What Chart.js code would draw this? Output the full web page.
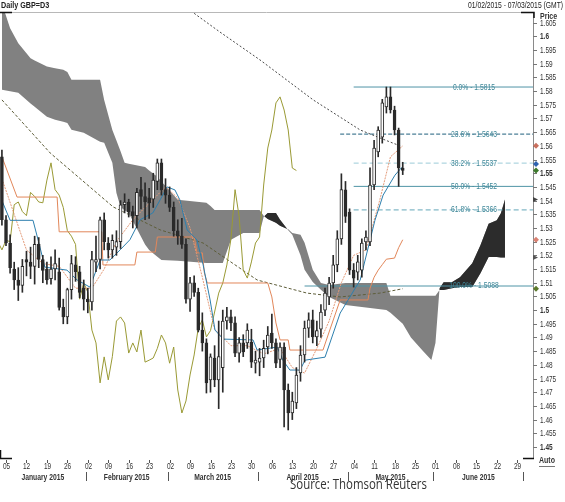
<!DOCTYPE html>
<html>
<head>
<meta charset="utf-8">
<script src="https://cdn.jsdelivr.net/npm/chart.js@4.4.0/dist/chart.umd.min.js"></script>
<style>
  html, body { margin: 0; padding: 0; background: #fff; }
  canvas { display: block; }
</style>
</head>
<body>
<canvas id="gbp" width="565" height="502"></canvas>
<script>
/* Daily GBP=D3, 02 Jan - 20 May 2015, trading day index 0 = 02 Jan */
var opens  = [1.5560,1.5330,1.5245,1.5150,1.5110,1.5090,1.5185,1.5175,1.5160,1.5240,1.5185,1.5150,1.5115,1.5150,1.5140,1.5010,1.4975,1.5075,1.5165,1.5140,
              1.5080,1.5040,1.5030,1.5175,1.5185,1.5330,1.5245,1.5220,1.5230,1.5250,1.5385,1.5395,1.5360,1.5345,1.5440,1.5415,1.5410,1.5405,1.5470,1.5538,
              1.5440,1.5420,1.5375,1.5290,1.5270,1.5240,1.5040,1.5100,1.5065,1.4927,1.4880,1.4745,1.4825,1.4745,1.4790,1.4960,1.4975,1.4953,1.4843,1.4880,
              1.4880,1.4883,1.4806,1.4810,1.4825,1.4865,1.4916,1.4880,1.4820,1.4865,1.4708,1.4624,1.4661,1.4770,1.4836,1.4934,1.4964,1.4902,1.4930,1.5000,
              1.5048,1.5099,1.5165,1.5260,1.5439,1.5358,1.5146,1.5139,1.5146,1.5249,1.5249,1.5457,1.5578,1.5632,1.5742,1.5779,1.5731,1.5658,1.5519];
var highs  = [1.5585,1.5345,1.5275,1.5175,1.5155,1.5185,1.5215,1.5230,1.5270,1.5265,1.5200,1.5175,1.5195,1.5220,1.5190,1.5040,1.5080,1.5200,1.5195,1.5160,
              1.5110,1.5080,1.5215,1.5270,1.5340,1.5355,1.5265,1.5275,1.5290,1.5400,1.5425,1.5405,1.5380,1.5445,1.5485,1.5465,1.5445,1.5500,1.5552,1.5552,
              1.5480,1.5450,1.5395,1.5330,1.5335,1.5260,1.5120,1.5125,1.5080,1.4990,1.4895,1.4840,1.4870,1.4960,1.5000,1.5010,1.5000,1.4975,1.4900,1.4910,
              1.4950,1.4930,1.4850,1.4860,1.4890,1.4940,1.4985,1.4895,1.4880,1.4880,1.4730,1.4700,1.4790,1.4870,1.4960,1.4990,1.5000,1.4960,1.5020,1.5080,
              1.5120,1.5200,1.5290,1.5498,1.5470,1.5370,1.5170,1.5200,1.5260,1.5290,1.5520,1.5620,1.5670,1.5770,1.5815,1.5815,1.5745,1.5665,1.5540];
var lows   = [1.5310,1.5235,1.5135,1.5075,1.5035,1.5065,1.5125,1.5115,1.5095,1.5155,1.5100,1.5095,1.5095,1.5110,1.5000,1.4950,1.4950,1.5040,1.5105,1.5045,
              1.5000,1.4990,1.5000,1.5140,1.5150,1.5220,1.5190,1.5190,1.5200,1.5225,1.5355,1.5340,1.5300,1.5300,1.5370,1.5330,1.5335,1.5375,1.5440,1.5420,
              1.5390,1.5360,1.5270,1.5240,1.5225,1.5025,1.4995,1.5050,1.4920,1.4850,1.4697,1.4700,1.4720,1.4640,1.4700,1.4930,1.4925,1.4830,1.4810,1.4830,
              1.4860,1.4790,1.4770,1.4760,1.4790,1.4840,1.4860,1.4790,1.4790,1.4573,1.4562,1.4600,1.4640,1.4740,1.4810,1.4900,1.4880,1.4870,1.4900,1.4980,
              1.5020,1.5080,1.5140,1.5240,1.5320,1.5130,1.5084,1.5110,1.5120,1.5220,1.5235,1.5440,1.5560,1.5610,1.5720,1.5720,1.5640,1.5452,1.5495];
var closes = [1.5330,1.5245,1.5155,1.5110,1.5090,1.5160,1.5175,1.5160,1.5240,1.5185,1.5145,1.5110,1.5150,1.5170,1.5010,1.4975,1.5075,1.5170,1.5140,1.5065,
              1.5040,1.5030,1.5185,1.5185,1.5330,1.5250,1.5220,1.5255,1.5250,1.5385,1.5395,1.5360,1.5345,1.5430,1.5415,1.5395,1.5392,1.5475,1.5538,1.5440,
              1.5420,1.5375,1.5290,1.5270,1.5240,1.5040,1.5100,1.5065,1.4927,1.4880,1.4734,1.4829,1.4745,1.4830,1.4960,1.4975,1.4953,1.4843,1.4880,1.4847,
              1.4927,1.4810,1.4817,1.4825,1.4860,1.4909,1.4880,1.4806,1.4865,1.4708,1.4624,1.4668,1.4763,1.4836,1.4934,1.4964,1.4902,1.4925,1.4993,1.5062,
              1.5099,1.5165,1.5260,1.5440,1.5342,1.5146,1.5117,1.5176,1.5245,1.5267,1.5457,1.5592,1.5658,1.5757,1.5779,1.5731,1.5658,1.5519,1.5510];

var chikouShift = 26;

var tenkanPts = [[0,1.5400],[2,1.5328],[7.6,1.5328],[9.3,1.5230],[10.5,1.5157],[15.9,1.5146],[18.4,1.5110],[21.5,1.5084],[24,1.5183],[26.4,1.5183],
                 [28.9,1.5220],[31.3,1.5257],[33.8,1.5330],[36.9,1.5355],[38.7,1.5403],[40.4,1.5450],[42.3,1.5439],[43.5,1.5403],[45.3,1.5293],[47.7,1.5256],
                 [49.2,1.5165],[50.9,1.5037],[52.1,1.4927],[54.1,1.4894],[61.4,1.4891],[62.4,1.4854],[67.3,1.4865],[68.7,1.4817],[70.4,1.4781],[72.9,1.4781],
                 [74.1,1.4817],[79,1.4828],[82.7,1.4989],[87.6,1.5110],[91.2,1.5328],[93.2,1.5420],[96.1,1.5493],[97.8,1.5522]];
var kijunPts  = [[0,1.5560],[3.7,1.5413],[13.5,1.5413],[14,1.5286],[24.4,1.5286],[24.7,1.5165],[32.5,1.5165],[33,1.5212],[37.5,1.5212],[38,1.5267],
                 [47,1.5267],[47.7,1.5209],[49,1.5209],[49.5,1.5136],[50.2,1.5099],[65,1.5099],[66,1.5048],[67,1.4953],[68,1.4891],[70,1.4891],
                 [70.4,1.4854],[78.5,1.4854],[80,1.4920],[82.7,1.5037],[89.5,1.5037],[90,1.5080],[91,1.5120],[92,1.5146],[93,1.5166],[94,1.5186],
                 [96,1.5190],[97,1.5228],[98,1.5257]];
var maShortPts = [[0,1.5480],[3,1.5350],[6,1.5220],[10,1.5170],[14,1.5160],[18,1.5080],[22,1.5080],[25,1.5150],[28,1.5250],[32,1.5330],
                  [36,1.5390],[40,1.5450],[43,1.5410],[46,1.5300],[49,1.5120],[52,1.4930],[56,1.4870],[60,1.4870],[64,1.4840],[68,1.4860],
                  [71,1.4790],[74,1.4770],[77,1.4860],[80,1.4960],[83,1.5100],[86,1.5200],[89,1.5220],[92.4,1.5403],[95,1.5560],[98,1.5600]];
var maLongPts = [[44,1.6122],[47.2,1.6082],[53.3,1.6016],[63.1,1.5914],[76.1,1.5768],[82.7,1.5705],[87.6,1.5658],[95.6,1.5610],[97.8,1.5598]];
var maMidPts  = [[0,1.5768],[11.8,1.5574],[27.2,1.5377],[38.7,1.5293],[49.2,1.5245],[62.4,1.5110],[74.6,1.5062],[82.7,1.5048],[92.4,1.5062],[98,1.5078]];

var cloudIdx = [0,2,4,7,8,11,13,15,16,17,20,24,25,27,28,29,30,31,35,36,38,39,43,50,51,52,54,56,59,63,64,65,67,68,70,71,73,74,76,78,80,84,94,95,98,100,103,105,106,107,108,110,112,115,117,119,121,122,123];
var spanA    = [1.5805,1.5800,1.5794,1.5755,1.5743,1.5706,1.5695,1.5688,1.5684,1.5659,1.5648,1.5615,1.5611,1.5538,1.5428,1.5377,1.5365,1.5355,1.5240,1.5220,1.5195,1.5183,1.5180,1.5172,1.5172,1.5172,1.5172,1.5257,1.5282,1.5282,1.5341,1.5355,1.5355,1.5330,1.5292,1.5275,1.5200,1.5147,1.5103,1.5074,1.5048,1.5019,1.5000,1.4990,1.4950,1.4900,1.4850,1.4818,1.4880,1.5080,1.5102,1.5102,1.5120,1.5171,1.5237,1.5315,1.5328,1.5354,1.5404];
var spanB    = [1.6120,1.6030,1.5975,1.5920,1.5912,1.5890,1.5884,1.5878,1.5870,1.5842,1.5842,1.5842,1.5768,1.5658,1.5620,1.5580,1.5538,1.5535,1.5523,1.5510,1.5487,1.5470,1.5403,1.5392,1.5380,1.5366,1.5366,1.5366,1.5366,1.5366,1.5345,1.5333,1.5319,1.5308,1.5295,1.5282,1.5275,1.5246,1.5147,1.5099,1.5092,1.5099,1.5099,1.5052,1.5052,1.5052,1.5052,1.5052,1.5052,1.5073,1.5073,1.5080,1.5084,1.5084,1.5135,1.5194,1.5194,1.5192,1.5192];

var fibPct   = ['0.0%', '23.6%', '38.2%', '50.0%', '61.8%', '100.0%'];
var fibPrice = [1.5815, 1.5643, 1.5537, 1.5452, 1.5366, 1.5088];
var fibFrom  = [86, 82.7, 86, 86, 86, 74];

var mondayIdx = [1,6,11,16,21,26,31,36,41,46,51,56,61,66,71,76,81,86,91,96,101,106,111,116,121,126];
var mondayLbl = ['05','12','19','26','02','09','16','23','02','09','16','23','30','06','13','20','27','04','11','18','25','01','08','15','22','29'];
var monthStart = [0, 21, 41, 63, 85, 106, 128];
var monthName  = ['January 2015', 'February 2015', 'March 2015', 'April 2015', 'May 2015', 'June 2015'];
var priceTicks = [1.605,1.6,1.595,1.59,1.585,1.58,1.575,1.57,1.565,1.56,1.555,1.55,1.545,1.54,1.535,1.53,1.525,1.52,1.515,1.51,1.505,1.5,1.495,1.49,1.485,1.48,1.475,1.47,1.465,1.46,1.455,1.45];
var priceLbl   = ['1.605','1.6','1.595','1.59','1.585','1.58','1.575','1.57','1.565','1.56','1.555','1.55','1.545','1.54','1.535','1.53','1.525','1.52','1.515','1.51','1.505','1.5','1.495','1.49','1.485','1.48','1.475','1.47','1.465','1.46','1.455','1.45'];

var DARK = '#2a2a2a';
var CLOUD_LIGHT = '#818181';
var CLOUD_DARK = '#2c2c2c';
var C_TENKAN = '#2d7fae', C_KIJUN = '#e2875a', C_SHORT = '#e49a78', C_CHIKOU = '#9a9a35', C_MALONG = '#4a4a4a', C_MAMID = '#5e5e3a';
function pts(arr) { return arr.map(function (p) { return { x: p[0], y: p[1] }; }); }

// split the cloud into the stretches where span A is above span B (dark part)
function darkParts() {
  var top = [], bot = [];
  for (var k = 0; k < cloudIdx.length; k++) {
    var up = spanA[k] >= spanB[k];
    if (k > 0) {
      var wasUp = spanA[k - 1] >= spanB[k - 1];
      if (up !== wasUp) {
        var d0 = spanA[k - 1] - spanB[k - 1], d1 = spanA[k] - spanB[k];
        var t = d0 / (d0 - d1);
        var cx = cloudIdx[k - 1] + t * (cloudIdx[k] - cloudIdx[k - 1]);
        var cy = spanA[k - 1] + t * (spanA[k] - spanA[k - 1]);
        top.push({ x: cx, y: cy }); bot.push({ x: cx, y: cy });
        if (!up) { top.push({ x: cx + 0.01, y: null }); bot.push({ x: cx + 0.01, y: null }); }
      }
    }
    if (up) { top.push({ x: cloudIdx[k], y: spanA[k] }); bot.push({ x: cloudIdx[k], y: spanB[k] }); }
  }
  return { top: top, bot: bot };
}
var dark = darkParts();

var datasets = [];
datasets.push({ type: 'bar', label: 'body', order: 0, grouped: false, barThickness: 3,
  data: opens.map(function (o, i) { var c = closes[i]; var lo = Math.min(o, c), hi = Math.max(o, c); if (hi - lo < 0.0003) { hi = lo + 0.0003; } return { x: i, y: [lo, hi] }; }),
  backgroundColor: opens.map(function (o, i) { return closes[i] >= o ? '#ffffff' : DARK; }),
  borderColor: DARK, borderWidth: 1, borderSkipped: false });
datasets.push({ type: 'bar', label: 'wick', order: 1, grouped: false, barThickness: 1,
  data: highs.map(function (h, i) { return { x: i, y: [lows[i], h] }; }),
  backgroundColor: DARK, borderWidth: 0 });
datasets.push({ type: 'line', label: 'Tenkan', order: 2, data: pts(tenkanPts), borderColor: C_TENKAN, borderWidth: 1, pointRadius: 0 });
datasets.push({ type: 'line', label: 'Kijun', order: 3, data: pts(kijunPts), borderColor: C_KIJUN, borderWidth: 1, pointRadius: 0 });
datasets.push({ type: 'line', label: 'MA short', order: 3.5, data: pts(maShortPts), borderColor: C_SHORT, borderWidth: 1, borderDash: [2, 1], pointRadius: 0 });
datasets.push({ type: 'line', label: 'Chikou', order: 4,
  data: closes.map(function (c, i) { return { x: i - chikouShift, y: c }; }),
  borderColor: C_CHIKOU, borderWidth: 1, pointRadius: 0 });
datasets.push({ type: 'line', label: 'MA long', order: 5, data: pts(maLongPts), borderColor: C_MALONG, borderWidth: 1, borderDash: [2, 2], pointRadius: 0 });
datasets.push({ type: 'line', label: 'MA mid', order: 6, data: pts(maMidPts), borderColor: C_MAMID, borderWidth: 1, borderDash: [3, 2], pointRadius: 0 });
fibPrice.forEach(function (p, k) {
  var dash = k === 1 ? [4, 2] : (k === 2 || k === 4 ? [5, 3] : []);
  var col = k === 1 ? '#1e5f7c' : (k === 2 ? '#9ccbd8' : (k === 4 ? '#62a6b8' : '#4f94a6'));
  datasets.push({ type: 'line', label: fibPct[k], order: 7, data: [{ x: fibFrom[k], y: p }, { x: 129.85, y: p }],
    borderColor: col, borderWidth: 1, borderDash: dash, pointRadius: 0 });
});
datasets.push({ type: 'line', label: 'Cloud dark top', order: 8, data: dark.top, spanGaps: false,
  borderWidth: 0, pointRadius: 0, borderColor: CLOUD_DARK, backgroundColor: CLOUD_DARK, fill: '+1' });
datasets.push({ type: 'line', label: 'Cloud dark bottom', order: 8.5, data: dark.bot, spanGaps: false,
  borderWidth: 0, pointRadius: 0, borderColor: CLOUD_DARK });
datasets.push({ type: 'line', label: 'Senkou A', order: 9,
  data: cloudIdx.map(function (x, k) { return { x: x, y: spanA[k] }; }),
  borderWidth: 0, pointRadius: 0, borderColor: CLOUD_LIGHT, backgroundColor: CLOUD_LIGHT, fill: '+1' });
datasets.push({ type: 'line', label: 'Senkou B', order: 10,
  data: cloudIdx.map(function (x, k) { return { x: x, y: spanB[k] }; }),
  borderWidth: 0, pointRadius: 0, borderColor: CLOUD_LIGHT });

// last-value tags on the price axis: [value, colour, shape]
var lastTags = [
  [maShortPts[maShortPts.length - 1][1], '#c9705e', 'd'],
  [tenkanPts[tenkanPts.length - 1][1] + 0.0012, '#2f62b0', 'd'],
  [closes[closes.length - 1], '#3d7a2c', 'd'],
  [spanA[spanA.length - 1], '#444444', 'a'],
  [kijunPts[kijunPts.length - 1][1], '#d98273', 'd'],
  [spanB[spanB.length - 1], '#555555', 'a'],
  [maMidPts[maMidPts.length - 1][1], '#5c7a2c', 'd']
];

function fitText(ctx, txt, x, y, font, sx, align) {
  ctx.save();
  ctx.font = font;
  ctx.textBaseline = 'middle';
  ctx.textAlign = 'left';
  var w = ctx.measureText(txt).width * sx;
  var left = align === 'center' ? x - w / 2 : (align === 'right' ? x - w : x);
  ctx.translate(left, y);
  ctx.scale(sx, 1);
  ctx.fillText(txt, 0, 0);
  ctx.restore();
  return w;
}

var decor = {
  id: 'decor',
  beforeDraw: function (chart) {
    var ctx = chart.ctx;
    ctx.save();
    ctx.fillStyle = '#ffffff';
    ctx.fillRect(0, 0, chart.width, chart.height);
    ctx.restore();
  },
  afterDraw: function (chart) {
    var ctx = chart.ctx, a = chart.chartArea, xs = chart.scales.x, ys = chart.scales.y;
    var FONT = '9px "Liberation Sans", Arial, sans-serif';
    var BOLD = 'bold 9px "Liberation Sans", Arial, sans-serif';
    ctx.save();
    // frame
    ctx.strokeStyle = '#b8b8b8'; ctx.lineWidth = 1;
    ctx.beginPath(); ctx.moveTo(0, a.top + 0.5); ctx.lineTo(a.right, a.top + 0.5); ctx.stroke();
    ctx.strokeStyle = '#8a8a8a';
    ctx.beginPath(); ctx.moveTo(a.right + 0.5, a.top); ctx.lineTo(a.right + 0.5, a.bottom); ctx.stroke();
    ctx.strokeStyle = '#111'; ctx.lineWidth = 1.5;
    ctx.beginPath();
    ctx.moveTo(0, a.top + 0.5); ctx.lineTo(12, a.top + 0.5);
    ctx.moveTo(a.right - 12, a.top + 0.5); ctx.lineTo(a.right + 1, a.top + 0.5); ctx.lineTo(a.right + 1, a.top + 6);
    ctx.moveTo(0.5, a.bottom - 8); ctx.lineTo(0.5, a.bottom + 0.5); ctx.lineTo(12, a.bottom + 0.5);
    ctx.moveTo(a.right - 10, a.bottom + 0.5); ctx.lineTo(a.right + 1, a.bottom + 0.5);
    ctx.stroke();

    // price axis
    ctx.fillStyle = '#333'; ctx.strokeStyle = '#777'; ctx.lineWidth = 1;
    priceTicks.forEach(function (v, k) {
      var y = Math.round(ys.getPixelForValue(v)) + 0.5;
      ctx.beginPath(); ctx.moveTo(a.right, y); ctx.lineTo(a.right + 4, y); ctx.stroke();
      var major = Math.abs(v * 20 - Math.round(v * 20)) < 1e-6;
      fitText(ctx, priceLbl[k], a.right + 7, y, major ? BOLD : FONT, 0.72, 'left');
    });
    fitText(ctx, 'Price', a.right + 7, 17, BOLD, 0.78, 'left');
    var aw = fitText(ctx, 'Auto', a.right + 6, 461, BOLD, 0.78, 'left');
    ctx.beginPath(); ctx.moveTo(a.right + 6, 466.5); ctx.lineTo(a.right + 6 + aw, 466.5); ctx.stroke();

    // last-value tags
    lastTags.forEach(function (t) {
      var y = ys.getPixelForValue(t[0]), x = a.right + 3;
      ctx.fillStyle = t[1];
      ctx.beginPath();
      if (t[2] === 'd') { ctx.moveTo(x, y - 3); ctx.lineTo(x + 3, y); ctx.lineTo(x, y + 3); ctx.lineTo(x - 3, y); }
      else { ctx.moveTo(x - 3, y - 2.5); ctx.lineTo(x + 2, y); ctx.lineTo(x - 3, y + 2.5); }
      ctx.closePath(); ctx.fill();
    });

    // date axis
    ctx.fillStyle = '#333'; ctx.strokeStyle = '#555';
    mondayIdx.forEach(function (d, k) {
      var x = Math.round(xs.getPixelForValue(d)) + 0.5;
      ctx.beginPath(); ctx.moveTo(x, a.bottom + 2); ctx.lineTo(x, a.bottom + 5); ctx.stroke();
      fitText(ctx, mondayLbl[k], x, a.bottom + 9, FONT, 0.72, 'center');
    });
    monthStart.forEach(function (d, k) {
      if (k > 0) {
        var x = Math.round(xs.getPixelForValue(d - 0.5)) + 0.5;
        ctx.beginPath(); ctx.moveTo(x, a.bottom + 14); ctx.lineTo(x, a.bottom + 23); ctx.stroke();
      }
      if (k < monthName.length) {
        var mid = xs.getPixelForValue((d + monthStart[k + 1] - 1) / 2);
        fitText(ctx, monthName[k], mid, a.bottom + 20, BOLD, 0.75, 'center');
      }
    });

    // fibonacci labels
    ctx.fillStyle = '#3f8798';
    fibPrice.forEach(function (p, k) {
      fitText(ctx, fibPct[k] + ' - ' + p.toFixed(4), 474, ys.getPixelForValue(p), FONT, 0.75, 'center');
    });

    // header and source
    ctx.fillStyle = '#222';
    fitText(ctx, 'Daily GBP=D3', 1, 6, BOLD, 0.8, 'left');
    fitText(ctx, '01/02/2015 - 07/03/2015 (GMT)', 563, 6, FONT, 0.75, 'right');
    ctx.fillStyle = '#333';
    ctx.font = '14px "Open Sans", sans-serif';
    var sw = ctx.measureText('Source: Thomson Reuters').width;
    fitText(ctx, 'Source: Thomson Reuters', 290, 485, '14px "Open Sans", sans-serif', 137 / sw, 'left');
    ctx.restore();
  }
};

new Chart(document.getElementById('gbp'), {
  type: 'bar',
  data: { datasets: datasets },
  options: {
    responsive: false, animation: false, events: [],
    layout: { padding: { top: 12, left: 0, right: 0, bottom: 0 } },
    scales: {
      x: { type: 'linear', min: -0.47, max: 129.85, offset: false, grid: { display: false }, border: { display: false },
           ticks: { display: false }, afterFit: function (s) { s.height = 44; } },
      y: { type: 'linear', position: 'right', min: 1.44596, max: 1.60891, grid: { display: false }, border: { display: false },
           ticks: { display: false }, afterFit: function (s) { s.width = 32; } }
    },
    plugins: { legend: { display: false }, tooltip: { enabled: false } }
  },
  plugins: [decor]
});
</script>
</body>
</html>
